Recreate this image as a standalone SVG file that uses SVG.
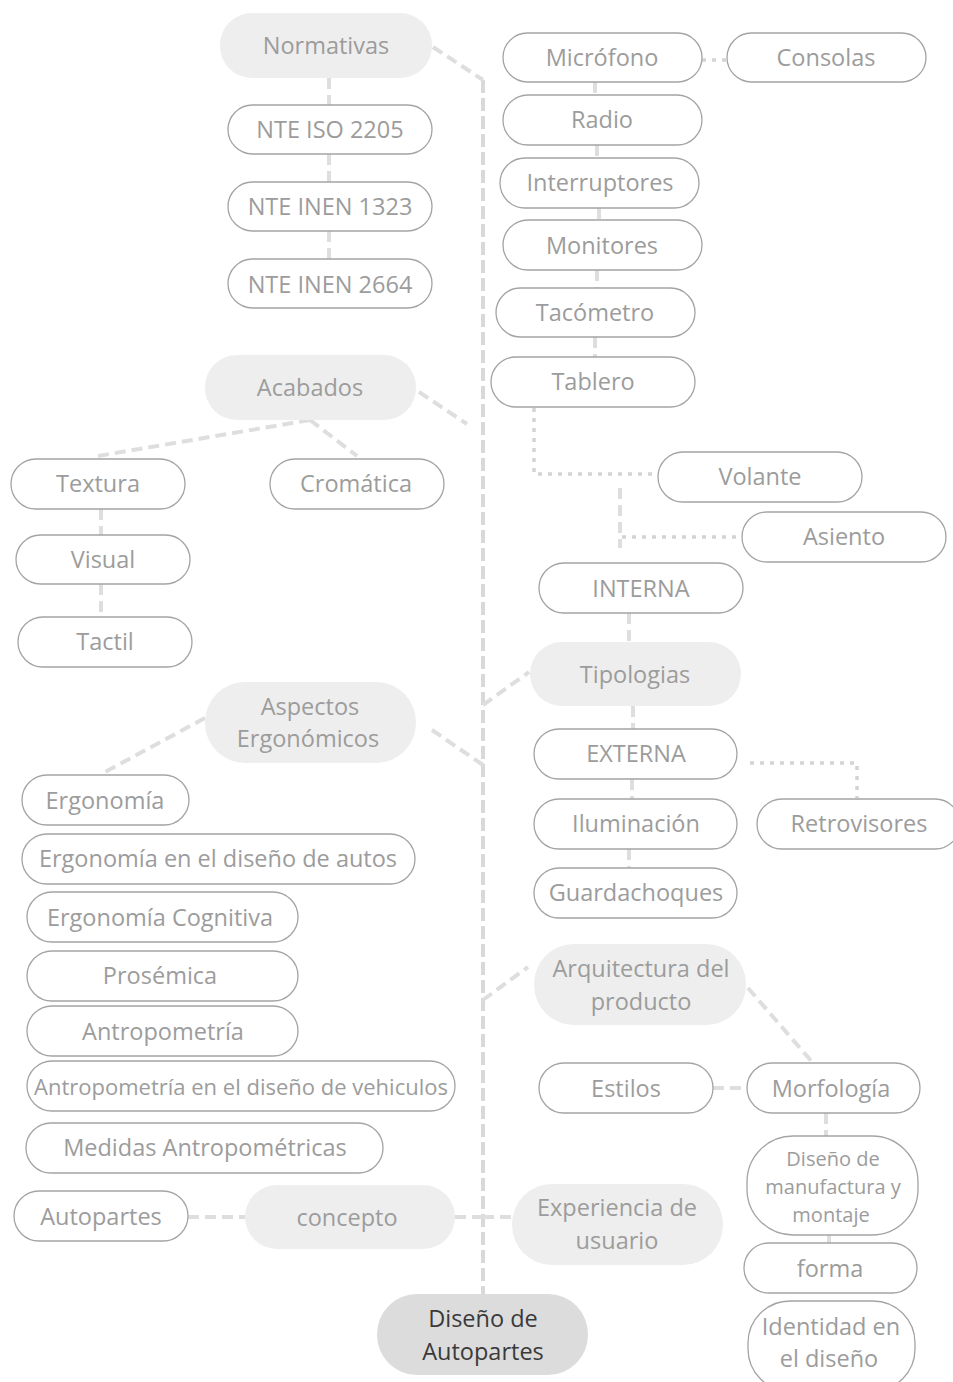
<svg xmlns="http://www.w3.org/2000/svg" width="953" height="1382" viewBox="0 0 953 1382">
  <style>
    text { font-family: "Open Sans", "Noto Sans", "Liberation Sans", sans-serif; font-size: 23.5px; fill: #9c9c9c; text-anchor: middle; dominant-baseline: central; }
    .leaf { fill: #ffffff; stroke: #a4a4a4; stroke-width: 1.3; }
    .topic { fill: #eeeeee; stroke: none; }
    .root { fill: #dcdcdc; stroke: none; }
    .root-text { fill: #3a3a3a; }
    .small { font-size: 20px; }
    .fit { font-size: 22px; }
    .dash { fill: none; stroke: #dedede; stroke-width: 4; stroke-dasharray: 11 6; }
    .trunk { fill: none; stroke: #d9d9d9; stroke-width: 4; stroke-dasharray: 13 5; }
    .dot { fill: none; stroke: #d4d4d4; stroke-width: 3.5; stroke-dasharray: 4 6; }
  </style>

  <!-- connectors -->
  <g id="connectors">
    <path class="trunk" d="M483 80 V1295"/>
    <path class="dash" d="M433 47 L483 80"/>
    <path class="dash" d="M329 78 V105 M329 154 V182 M329 231 V259"/>
    <path class="dash" d="M419 392 L467 424"/>
    <path class="dash" d="M310 420 L98 456 M310 420 L357 456"/>
    <path class="dash" d="M101 509 V536 M101 584 V613"/>
    <path class="dash" d="M432 730 L483 765"/>
    <path class="dash" d="M205 718 L105 772"/>
    <path class="dash" d="M483 705 L529 672"/>
    <path class="dash" d="M483 1000 L528 967"/>
    <path class="dash" d="M483 1217 H518 M455 1217 H483 M188 1217 H245"/>
    <path class="dash" d="M595 82 V95 M597 145 V158 M599 208 V220 M597 270 V288 M595 337 V357"/>
    <path class="dot" d="M702 60 H727"/>
    <path class="dot" d="M534 408 V474 H656"/>
    <path class="dash" d="M620 488 V548"/>
    <path class="dot" d="M622 537 H740"/>
    <path class="dash" d="M629 613 V641 M633 706 V729 M632 779 V800 M629 849 V868"/>
    <path class="dot" d="M750 763 H857 V798"/>
    <path class="dash" d="M748 988 L813 1063"/>
    <path class="dash" d="M713 1088 H747"/>
    <path class="dash" d="M826 1113 V1137 M829 1234 V1248"/>
  </g>

  <!-- Normativas branch -->
  <g id="normativas"><rect class="topic" x="220" y="13" width="212" height="65" rx="32"/><text x="326" y="45">Normativas</text></g>
  <g id="nte-iso-2205"><rect class="leaf" x="228" y="105" width="204" height="49" rx="24.5"/><text x="330" y="129">NTE ISO 2205</text></g>
  <g id="nte-inen-1323"><rect class="leaf" x="228" y="182" width="204" height="49" rx="24.5"/><text x="330" y="206">NTE INEN 1323</text></g>
  <g id="nte-inen-2664"><rect class="leaf" x="228" y="259" width="204" height="49" rx="24.5"/><text x="330" y="284">NTE INEN 2664</text></g>

  <!-- interior components -->
  <g id="microfono"><rect class="leaf" x="503" y="33" width="199" height="49" rx="24.5"/><text x="602" y="57">Micrófono</text></g>
  <g id="consolas"><rect class="leaf" x="727" y="33" width="199" height="49" rx="24.5"/><text x="826" y="57">Consolas</text></g>
  <g id="radio"><rect class="leaf" x="503" y="95" width="199" height="50" rx="25"/><text x="602" y="119">Radio</text></g>
  <g id="interruptores"><rect class="leaf" x="500" y="158" width="199" height="50" rx="25"/><text x="600" y="182">Interruptores</text></g>
  <g id="monitores"><rect class="leaf" x="503" y="220" width="199" height="50" rx="25"/><text x="602" y="245">Monitores</text></g>
  <g id="tacometro"><rect class="leaf" x="496" y="288" width="199" height="49" rx="24.5"/><text x="595" y="312">Tacómetro</text></g>
  <g id="tablero"><rect class="leaf" x="491" y="357" width="204" height="50" rx="25"/><text x="593" y="381">Tablero</text></g>

  <!-- Acabados branch -->
  <g id="acabados"><rect class="topic" x="205" y="355" width="211" height="65" rx="32"/><text x="310" y="387">Acabados</text></g>
  <g id="textura"><rect class="leaf" x="11" y="459" width="174" height="50" rx="25"/><text x="98" y="483">Textura</text></g>
  <g id="cromatica"><rect class="leaf" x="270" y="459" width="174" height="50" rx="25"/><text x="356" y="483">Cromática</text></g>
  <g id="visual"><rect class="leaf" x="16" y="535" width="174" height="49" rx="24.5"/><text x="103" y="559">Visual</text></g>
  <g id="tactil"><rect class="leaf" x="18" y="617" width="174" height="50" rx="25"/><text x="105" y="641">Tactil</text></g>

  <!-- Tipologias branch -->
  <g id="volante"><rect class="leaf" x="658" y="452" width="204" height="50" rx="25"/><text x="760" y="476">Volante</text></g>
  <g id="asiento"><rect class="leaf" x="742" y="512" width="204" height="50" rx="25"/><text x="844" y="536">Asiento</text></g>
  <g id="interna"><rect class="leaf" x="539" y="563" width="204" height="50" rx="25"/><text x="641" y="588">INTERNA</text></g>
  <g id="tipologias"><rect class="topic" x="530" y="642" width="211" height="64" rx="32"/><text x="635" y="674">Tipologias</text></g>
  <g id="externa"><rect class="leaf" x="534" y="729" width="203" height="50" rx="25"/><text x="636" y="753">EXTERNA</text></g>
  <g id="retrovisores"><rect class="leaf" x="757" y="799" width="203" height="50" rx="25"/><text x="859" y="823">Retrovisores</text></g>
  <g id="iluminacion"><rect class="leaf" x="534" y="799" width="203" height="50" rx="25"/><text x="636" y="823">Iluminación</text></g>
  <g id="guardachoques"><rect class="leaf" x="534" y="868" width="203" height="50" rx="25"/><text x="636" y="892">Guardachoques</text></g>

  <!-- Aspectos Ergonómicos branch -->
  <g id="aspectos-ergonomicos"><rect class="topic" x="205" y="682" width="211" height="81" rx="40"/><text x="310" y="706">Aspectos</text><text x="308" y="738">Ergonómicos</text></g>
  <g id="ergonomia"><rect class="leaf" x="22" y="775" width="167" height="50" rx="25"/><text x="105" y="800">Ergonomía</text></g>
  <g id="ergonomia-autos"><rect class="leaf" x="22" y="834" width="393" height="50" rx="25"/><text x="218" y="858">Ergonomía en el diseño de autos</text></g>
  <g id="ergonomia-cognitiva"><rect class="leaf" x="27" y="892" width="271" height="50" rx="25"/><text x="160" y="917">Ergonomía Cognitiva</text></g>
  <g id="prosemica"><rect class="leaf" x="27" y="951" width="271" height="50" rx="25"/><text x="160" y="975">Prosémica</text></g>
  <g id="antropometria"><rect class="leaf" x="27" y="1006" width="271" height="50" rx="25"/><text x="163" y="1031">Antropometría</text></g>
  <g id="antropometria-vehiculos"><rect class="leaf" x="27" y="1061" width="428" height="50" rx="25"/><text class="fit" x="241" y="1086">Antropometría en el diseño de vehiculos</text></g>
  <g id="medidas-antropometricas"><rect class="leaf" x="26" y="1123" width="357" height="50" rx="25"/><text x="205" y="1147">Medidas Antropométricas</text></g>

  <!-- concepto branch -->
  <g id="autopartes"><rect class="leaf" x="14" y="1191" width="174" height="50" rx="25"/><text x="101" y="1216">Autopartes</text></g>
  <g id="concepto"><rect class="topic" x="245" y="1185" width="210" height="64" rx="32"/><text x="347" y="1217">concepto</text></g>

  <!-- Arquitectura del producto branch -->
  <g id="arquitectura-producto"><rect class="topic" x="534" y="944" width="212" height="81" rx="40"/><text x="641" y="968">Arquitectura del</text><text x="641" y="1001">producto</text></g>
  <g id="estilos"><rect class="leaf" x="539" y="1063" width="174" height="50" rx="25"/><text x="626" y="1088">Estilos</text></g>
  <g id="morfologia"><rect class="leaf" x="747" y="1063" width="173" height="50" rx="25"/><text x="831" y="1088">Morfología</text></g>
  <g id="diseno-manufactura"><rect class="leaf" x="747" y="1136" width="171" height="99" rx="46"/><text class="small" x="833" y="1158">Diseño de</text><text class="small" x="833" y="1186">manufactura y</text><text class="small" x="831" y="1214">montaje</text></g>
  <g id="forma"><rect class="leaf" x="744" y="1243" width="173" height="50" rx="25"/><text x="830" y="1268">forma</text></g>
  <g id="identidad-diseno"><rect class="leaf" x="748" y="1301" width="167" height="90" rx="42"/><text x="831" y="1326">Identidad en</text><text x="829" y="1358">el diseño</text></g>

  <!-- Experiencia de usuario -->
  <g id="experiencia-usuario"><rect class="topic" x="512" y="1184" width="211" height="81" rx="40"/><text x="617" y="1207">Experiencia de</text><text x="617" y="1240">usuario</text></g>

  <!-- central topic -->
  <g id="diseno-autopartes"><rect class="root" x="377" y="1294" width="211" height="81" rx="40"/><text class="root-text" x="483" y="1318">Diseño de</text><text class="root-text" x="483" y="1351">Autopartes</text></g>
</svg>
